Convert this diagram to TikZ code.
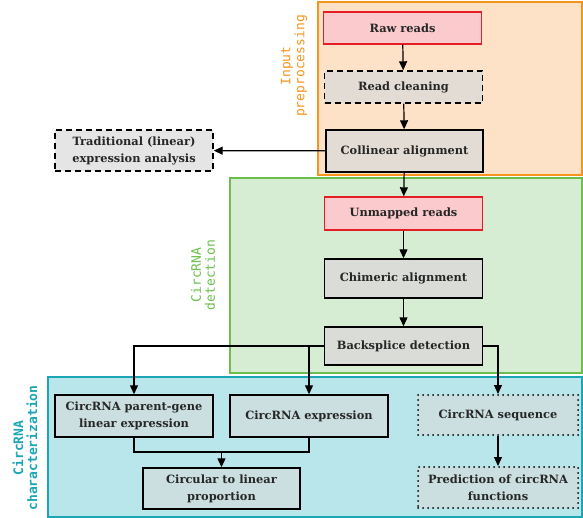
\documentclass[tikz,border=0pt]{standalone}
\usepackage{fontspec}
\setmainfont{DejaVu Serif}
\newfontfamily\labelfont{DejaVu Sans Mono}
\usetikzlibrary{arrows.meta,positioning}

\definecolor{prepline}{HTML}{F7941D}
\definecolor{prepfill}{HTML}{FDE2C7}
\definecolor{detline}{HTML}{6BBE4B}
\definecolor{detfill}{HTML}{D6EDD3}
\definecolor{charline}{HTML}{1BA6B5}
\definecolor{charfill}{HTML}{B9E6EA}
\definecolor{rawline}{HTML}{E41E25}
\definecolor{rawfill}{HTML}{FACACD}
\definecolor{beige}{HTML}{E3DCD4}
\definecolor{greybox}{HTML}{DADCD8}
\definecolor{lightbox}{HTML}{E5E5E5}
\definecolor{cyanbox}{HTML}{CBDFE0}

\tikzset{
  stepbox/.style={draw=black, line width=1.4pt, minimum width=158pt,
    minimum height=38pt, align=center, inner sep=2pt, text=black!85,
    font=\bfseries\fontsize{11.4}{17}\selectfont},
  readbox/.style={stepbox, draw=rawline, fill=rawfill},
  optbox/.style={stepbox, dash pattern=on 6pt off 4pt},
  dotbox/.style={stepbox, line cap=round, dash pattern=on 0pt off 5pt, line width=2pt},
  region/.style={line width=1.2pt},
  grouplabel/.style={rotate=90, align=center, font=\labelfont\fontsize{13}{14}\selectfont},
  flow/.style={line width=1.2pt, -{Triangle[length=9pt,width=8pt]}},
  link/.style={line width=1.2pt}
}

\begin{document}
\begin{tikzpicture}[x=1pt,y=-1pt]
  \useasboundingbox (0,0) rectangle (583,518);

  % group areas
  \draw[region, draw=prepline, fill=prepfill] (318,2) rectangle (582,175);
  \draw[region, draw=detline, fill=detfill] (230,178) rectangle (582,373);
  \draw[region, draw=charline, fill=charfill] (48,377) rectangle (582,517);

  \node[grouplabel, text=prepline] (preplbl) at (294,66) {Input\\preprocessing};
  \node[grouplabel, text=detline] (detlbl) at (203,275) {CircRNA\\detection};
  \node[grouplabel, text=charline, font=\labelfont\bfseries\fontsize{13}{14}\selectfont] (charlbl) at (25,448) {CircRNA\\characterization};

  % input preprocessing
  \node[readbox, minimum height=32pt] (raw) at (402.5,28) {Raw reads};
  \node[optbox, fill=beige, minimum height=32pt] (clean) at (403.5,87) {Read cleaning};
  \node[stepbox, fill=beige, minimum width=157pt, minimum height=42pt] (colin) at (404.5,151) {Collinear alignment};
  \node[optbox, fill=lightbox, minimum height=41pt] (trad) at (134,150.5) {Traditional (linear)\\expression analysis};

  % circRNA detection
  \node[readbox, minimum height=33pt] (unmap) at (403.5,213.5) {Unmapped reads};
  \node[stepbox, fill=greybox, minimum height=39pt] (chim) at (403.5,278.5) {Chimeric alignment};
  \node[stepbox, fill=greybox] (back) at (403.5,346) {Backsplice detection};

  % circRNA characterization
  \node[stepbox, fill=cyanbox, minimum height=42pt] (parent) at (134,416) {CircRNA parent-gene\\linear expression};
  \node[stepbox, fill=cyanbox, minimum height=42pt] (expr) at (309,416) {CircRNA expression};
  \node[stepbox, fill=cyanbox, minimum width=157pt, minimum height=41pt] (circ) at (221.5,488.5) {Circular to linear\\proportion};
  \node[dotbox, fill=cyanbox, minimum width=160pt, minimum height=40pt] (seq) at (498,415) {CircRNA sequence};
  \node[dotbox, fill=cyanbox, minimum width=160pt, minimum height=41pt] (pred) at (498,487.5) {Prediction of circRNA\\functions};
  \coordinate (mrg) at (221.5,452);

  \draw[flow] (raw) -- (clean);
  \draw[flow] (clean) -- (colin);
  \draw[flow] (colin) -- (trad);
  \draw[flow] (colin) -- (unmap);
  \draw[flow] (unmap) -- (chim);
  \draw[flow] (chim) -- (back);
  \draw[flow] (back.west) -| (parent.north);
  \draw[flow] (back.west) -| (expr.north);
  \draw[flow] (back.east) -| (seq.north);
  \draw[flow] (seq) -- (pred);
  \draw[link] (parent.south) |- (mrg) -| (expr.south);
  \draw[flow] (mrg) -- (circ);
\end{tikzpicture}
\end{document}
